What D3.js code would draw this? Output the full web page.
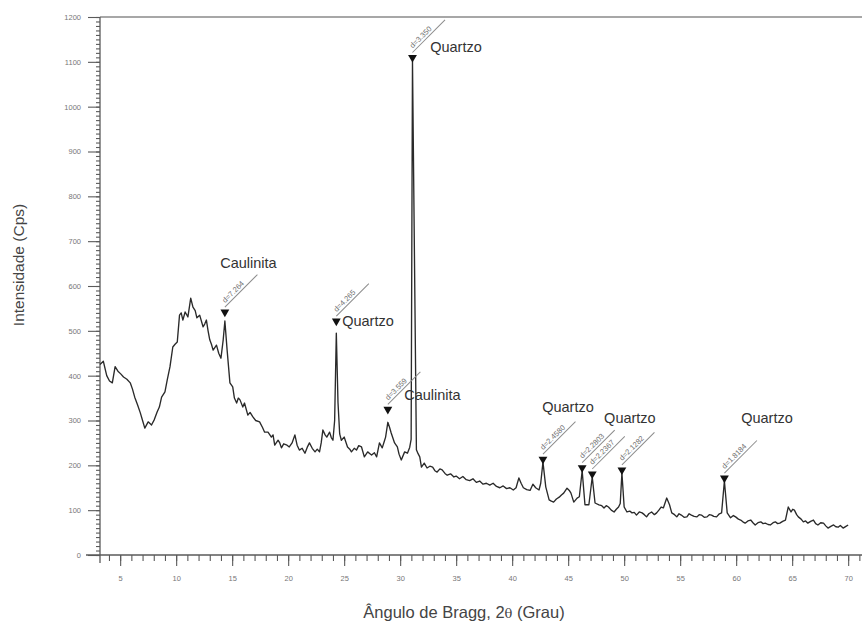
<!DOCTYPE html>
<html>
<head>
<meta charset="utf-8">
<script src="https://cdn.jsdelivr.net/npm/d3@7/dist/d3.min.js"></script>
<style>
  body { margin: 0; background: #fff; }
  svg { display: block; }
  text { font-family: "Liberation Sans", Arial, sans-serif; }
</style>
</head>
<body>
<svg id="chart" width="862" height="626"></svg>
<script>
// Diffraction scan: [2θ (degrees), intensity (counts per second)]
const scan = [
  [3.2,425],[3.5,432],[3.8,400],[4.05,388],[4.3,384],[4.55,420],[4.8,410],[5.05,404],[5.3,397],[5.6,392],
  [5.9,384],[6.1,370],[6.3,352],[6.55,335],[6.8,317],[7.0,300],[7.2,283],[7.5,297],[7.8,290],[8.05,302],
  [8.3,319],[8.5,330],[8.7,352],[9.0,364],[9.2,390],[9.45,420],[9.7,464],[9.9,470],[10.1,475],[10.3,535],
  [10.45,540],[10.6,524],[10.8,542],[11.05,531],[11.3,573],[11.5,553],[11.7,545],[11.85,529],[12.1,535],[12.4,509],
  [12.55,515],[12.7,524],[12.85,500],[13.0,480],[13.15,470],[13.3,457],[13.6,468],[13.8,450],[14.0,439],[14.2,480],
  [14.35,522],[14.55,457],[14.8,384],[15.05,375],[15.2,350],[15.4,339],[15.55,350],[15.7,346],[15.95,330],[16.1,339],
  [16.4,312],[16.6,318],[16.85,308],[17.1,300],[17.45,297],[17.7,285],[17.9,274],[18.2,274],[18.5,263],[18.65,268],
  [18.8,245],[19.1,256],[19.25,250],[19.4,239],[19.6,248],[19.9,245],[20.1,241],[20.35,250],[20.6,268],[20.8,245],
  [21.0,234],[21.25,238],[21.5,227],[21.7,240],[21.9,250],[22.15,238],[22.4,230],[22.6,236],[22.8,230],[22.95,250],
  [23.1,279],[23.3,268],[23.45,263],[23.7,274],[23.85,262],[24.0,256],[24.15,300],[24.3,495],[24.45,340],[24.6,270],
  [24.75,256],[25.0,263],[25.15,252],[25.3,241],[25.5,236],[25.65,230],[25.9,238],[26.1,234],[26.3,244],[26.55,241],
  [26.8,219],[27.1,230],[27.3,226],[27.45,223],[27.7,228],[27.9,219],[28.15,250],[28.4,239],[28.6,255],[28.7,263],
  [28.9,296],[29.05,285],[29.2,272],[29.5,250],[29.75,241],[29.9,225],[30.1,212],[30.4,230],[30.65,227],[30.85,240],
  [30.98,258],[31.1,1103],[31.45,235],[31.6,226],[31.75,219],[31.9,196],[32.15,205],[32.4,194],[32.65,198],[32.9,196],
  [33.1,188],[33.3,185],[33.55,192],[33.75,190],[34.0,182],[34.2,178],[34.5,181],[34.8,174],[35.0,176],[35.3,170],
  [35.6,175],[35.9,168],[36.2,166],[36.5,170],[36.8,162],[37.1,165],[37.4,158],[37.7,160],[38.0,156],[38.3,160],
  [38.6,153],[38.9,150],[39.2,154],[39.5,148],[39.8,150],[40.1,145],[40.35,150],[40.6,172],[40.8,160],[41.0,150],
  [41.3,146],[41.6,144],[41.85,158],[42.1,150],[42.4,145],[42.55,160],[42.75,207],[43.0,152],[43.3,123],[43.5,120],
  [43.7,118],[43.95,125],[44.2,129],[44.4,134],[44.6,138],[44.9,149],[45.1,144],[45.25,138],[45.5,118],[45.8,127],
  [46.0,130],[46.25,188],[46.5,112],[46.85,112],[47.15,174],[47.4,116],[47.75,112],[48.0,110],[48.2,105],[48.4,110],
  [48.6,107],[48.85,100],[49.1,96],[49.3,102],[49.5,107],[49.65,115],[49.8,183],[50.0,107],[50.25,96],[50.5,98],
  [50.7,94],[50.9,95],[51.1,89],[51.35,96],[51.6,94],[51.8,90],[52.0,85],[52.2,92],[52.45,96],[52.7,90],
  [52.9,94],[53.1,100],[53.3,107],[53.5,105],[53.8,127],[54.05,112],[54.25,94],[54.5,90],[54.7,85],[54.9,92],
  [55.1,89],[55.35,84],[55.6,85],[55.8,92],[56.0,89],[56.25,86],[56.5,85],[56.7,90],[56.9,89],[57.15,84],
  [57.4,85],[57.6,90],[57.8,89],[58.0,86],[58.25,85],[58.5,92],[58.7,94],[58.95,165],[59.2,94],[59.5,83],
  [59.75,88],[59.95,85],[60.2,80],[60.4,78],[60.6,74],[60.8,71],[61.05,76],[61.3,78],[61.5,72],[61.7,67],
  [61.95,72],[62.2,74],[62.4,70],[62.6,71],[62.85,68],[63.05,67],[63.3,72],[63.5,74],[63.7,70],[63.9,71],
  [64.15,75],[64.4,78],[64.65,107],[64.9,96],[65.05,102],[65.2,100],[65.4,90],[65.55,85],[65.8,80],[66.0,74],
  [66.2,76],[66.4,71],[66.65,75],[66.9,78],[67.1,70],[67.3,67],[67.55,72],[67.8,71],[68.0,65],[68.2,60],
  [68.45,64],[68.7,67],[68.9,63],[69.1,62],[69.3,66],[69.55,60],[69.8,64],[70.0,67]
];

// Indexed reflections: position, marker height and interplanar spacing
const peakAngle   = [14.35, 24.3, 28.9, 31.1, 42.75, 46.25, 47.15, 49.8, 58.95];
const peakMarker  = [535, 515, 318, 1103, 207, 188, 174, 183, 165];
const peakSpacing = ["d=7.264", "d=4.265", "d=3.559", "d=3.350", "d=2.4580", "d=2.2803", "d=2.2367", "d=2.1282", "d=1.8184"];

// Mineral phase names and where they are written
const phaseNames  = ["Caulinita", "Quartzo", "Caulinita", "Quartzo", "Quartzo", "Quartzo", "Quartzo"];
const phaseAngle  = [13.93, 24.82, 30.36, 32.68, 42.68, 48.21, 60.45];
const phaseCounts = [640, 511, 346, 1122, 319, 294, 294];

// Axis ticks
const xTicks = [5, 10, 15, 20, 25, 30, 35, 40, 45, 50, 55, 60, 65, 70];
const xMinor = d3.range(4, 72, 1);
const yTicks = [0, 100, 200, 300, 400, 500, 600, 700, 800, 900, 1000, 1100, 1200];
const yMinor = d3.range(0, 1201, 10);

const svg = d3.select("#chart");
const x = d3.scaleLinear().domain([3.2, 71.2]).range([100, 861.6]);
const y = d3.scaleLinear().domain([0, 1200]).range([555, 17]);

const axisColor = "#5a5a5a";
const tickText = "#777777";

// top frame line
svg.append("line")
  .attr("x1", x(3.2)).attr("x2", 862)
  .attr("y1", y(1200)).attr("y2", y(1200))
  .attr("stroke", "#8a8a8a").attr("stroke-width", 1.6);

// x axis: minor and major ticks
const gxMinor = svg.append("g").attr("transform", `translate(0,${y(0)})`)
  .call(d3.axisBottom(x).tickValues(xMinor).tickSize(6).tickFormat(""));
const gxMajor = svg.append("g").attr("transform", `translate(0,${y(0)})`)
  .call(d3.axisBottom(x).tickValues(xTicks).tickSize(11).tickPadding(10).tickFormat(d3.format("d")));

// y axis: minor and major ticks
const gyMinor = svg.append("g").attr("transform", `translate(${x(3.2)},0)`)
  .call(d3.axisLeft(y).tickValues(yMinor).tickSize(4).tickFormat(""));
const gyMajor = svg.append("g").attr("transform", `translate(${x(3.2)},0)`)
  .call(d3.axisLeft(y).tickValues(yTicks).tickSize(12).tickPadding(7).tickFormat(d3.format("d")));

[gxMinor, gxMajor, gyMinor, gyMajor].forEach(g => {
  g.select(".domain").remove();
  g.selectAll(".tick line").attr("stroke", axisColor).attr("stroke-width", 1.1);
  g.selectAll(".tick text").attr("fill", tickText).attr("font-size", 7.5)
    .attr("font-family", "Liberation Sans, Arial, sans-serif");
});

// axis lines
svg.append("line").attr("x1", x(3.2) - 14).attr("x2", 862)
  .attr("y1", y(0)).attr("y2", y(0)).attr("stroke", axisColor).attr("stroke-width", 1.3);
svg.append("line").attr("x1", x(3.2)).attr("x2", x(3.2))
  .attr("y1", y(1200)).attr("y2", y(0) + 8).attr("stroke", axisColor).attr("stroke-width", 1.3);

// diffraction pattern
const line = d3.line().x(d => x(d[0])).y(d => y(d[1]));
svg.append("path").datum(scan)
  .attr("d", line)
  .attr("fill", "none")
  .attr("stroke", "#2a2a2a")
  .attr("stroke-width", 1.35)
  .attr("stroke-linejoin", "round");

// reflection markers with spacing labels on slanted leaders
const leaderLen = 46;
const tri = d3.symbol().type(d3.symbolTriangle).size(34);
peakAngle.forEach((a, i) => {
  const px = x(a), py = y(peakMarker[i]);
  svg.append("path")
    .attr("d", tri)
    .attr("transform", `translate(${px},${py - 3}) rotate(180)`)
    .attr("fill", "#111");
  const g = svg.append("g")
    .attr("transform", `translate(${px},${py - 8}) rotate(-45)`);
  g.append("line")
    .attr("x1", 0).attr("y1", 0).attr("x2", leaderLen).attr("y2", 0)
    .attr("stroke", "#8c8c8c").attr("stroke-width", 1);
  g.append("text")
    .attr("x", 3).attr("y", -2.5)
    .attr("font-size", 7.5)
    .attr("fill", "#6f6f6f")
    .text(peakSpacing[i]);
});

// phase names
phaseNames.forEach((n, i) => {
  svg.append("text")
    .attr("x", x(phaseAngle[i]))
    .attr("y", y(phaseCounts[i]))
    .attr("font-size", 14.5)
    .attr("fill", "#333")
    .text(n);
});

// axis titles
svg.append("text")
  .attr("transform", `translate(24,265) rotate(-90)`)
  .attr("text-anchor", "middle")
  .attr("font-size", 15.5)
  .attr("fill", "#444")
  .text("Intensidade (Cps)");

const xt = svg.append("text")
  .attr("x", 464).attr("y", 618)
  .attr("text-anchor", "middle")
  .attr("font-size", 16.5)
  .attr("fill", "#444");
xt.append("tspan").text("Ângulo de Bragg, 2");
xt.append("tspan").attr("font-size", 13).attr("font-family", "DejaVu Serif, serif").text("θ");
xt.append("tspan").text(" (Grau)");
</script>
</body>
</html>
